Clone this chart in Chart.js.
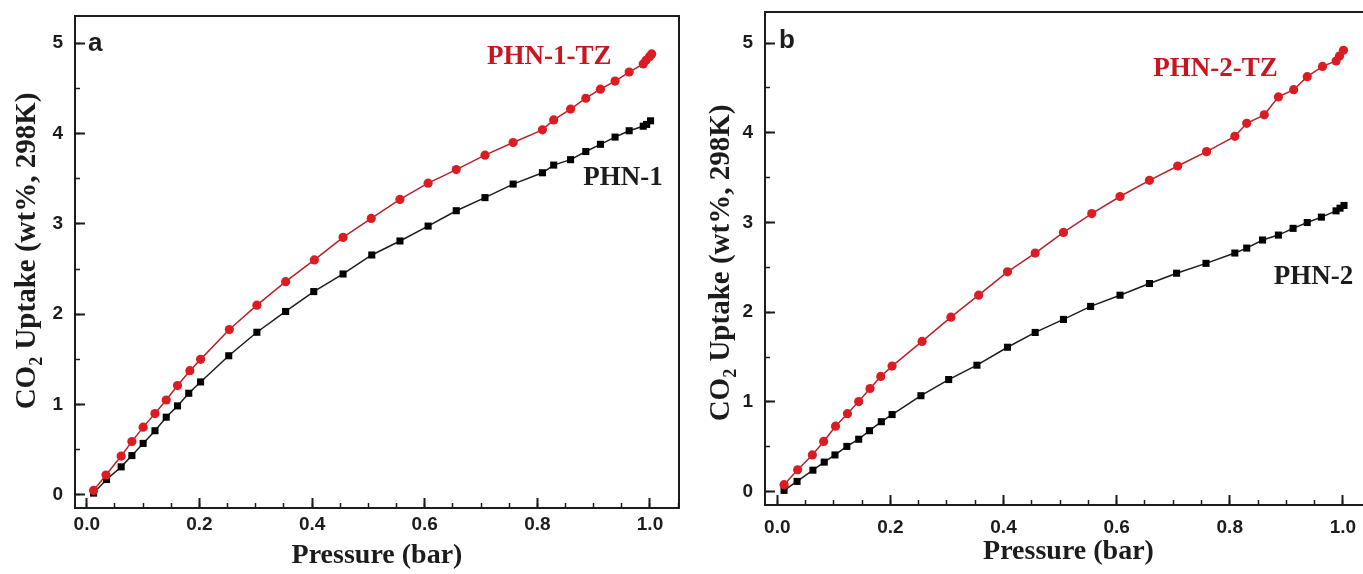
<!DOCTYPE html>
<html>
<head>
<meta charset="utf-8">
<script src="https://cdn.jsdelivr.net/npm/chart.js@4.4.1/dist/chart.umd.min.js"></script>
<style>
    html, body { margin: 0; padding: 0; background: #fff; overflow: hidden; }
    body { width: 1363px; height: 574px; position: relative; }
    .panel { position: absolute; top: 0; width: 690px; height: 574px; }
    #panelA { left: 0; }
    #panelB { left: 690px; }
</style>
</head>
<body>
<div class="panel" id="panelA"><canvas id="chartA"></canvas></div>
<div class="panel" id="panelB"><canvas id="chartB"></canvas></div>
<script>
// Panel a: PHN-1-TZ (red) and PHN-1 (black)
const phn1TzPressure = [0.012, 0.034, 0.061, 0.080, 0.100, 0.121, 0.141, 0.161, 0.183, 0.202, 0.253, 0.302, 0.353, 0.404, 0.455, 0.505, 0.556, 0.606, 0.656, 0.707, 0.757, 0.809, 0.829, 0.859, 0.886, 0.912, 0.938, 0.963, 0.988, 0.993, 0.999, 1.003];
const phn1TzUptake = [0.05, 0.22, 0.43, 0.59, 0.75, 0.90, 1.05, 1.21, 1.375, 1.50, 1.83, 2.10, 2.36, 2.60, 2.85, 3.06, 3.27, 3.45, 3.60, 3.76, 3.90, 4.04, 4.15, 4.27, 4.39, 4.49, 4.58, 4.68, 4.77, 4.81, 4.85, 4.88];
const phn1Pressure = [0.012, 0.035, 0.061, 0.080, 0.100, 0.121, 0.141, 0.161, 0.181, 0.202, 0.252, 0.302, 0.353, 0.403, 0.455, 0.506, 0.556, 0.606, 0.656, 0.707, 0.757, 0.809, 0.829, 0.859, 0.886, 0.912, 0.938, 0.963, 0.988, 0.994, 1.001];
const phn1Uptake = [0.02, 0.17, 0.31, 0.435, 0.57, 0.71, 0.86, 0.985, 1.125, 1.25, 1.54, 1.80, 2.03, 2.25, 2.445, 2.655, 2.81, 2.975, 3.145, 3.29, 3.44, 3.565, 3.65, 3.71, 3.80, 3.88, 3.96, 4.03, 4.08, 4.10, 4.14];

// Panel b: PHN-2-TZ (red) and PHN-2 (black)
const phn2TzPressure = [0.012, 0.036, 0.062, 0.082, 0.103, 0.124, 0.144, 0.164, 0.183, 0.203, 0.256, 0.307, 0.356, 0.407, 0.456, 0.506, 0.556, 0.606, 0.658, 0.708, 0.759, 0.809, 0.830, 0.861, 0.886, 0.913, 0.937, 0.964, 0.988, 0.994, 1.001];
const phn2TzUptake = [0.078, 0.245, 0.41, 0.56, 0.73, 0.87, 1.005, 1.15, 1.285, 1.40, 1.675, 1.945, 2.19, 2.45, 2.66, 2.89, 3.10, 3.29, 3.47, 3.63, 3.79, 3.96, 4.105, 4.20, 4.40, 4.48, 4.625, 4.74, 4.80, 4.855, 4.92];
const phn2Pressure = [0.012, 0.035, 0.063, 0.083, 0.102, 0.123, 0.144, 0.163, 0.184, 0.203, 0.254, 0.303, 0.353, 0.407, 0.456, 0.506, 0.554, 0.606, 0.658, 0.706, 0.758, 0.809, 0.830, 0.858, 0.886, 0.912, 0.937, 0.962, 0.988, 0.995, 1.002];
const phn2Uptake = [0.015, 0.115, 0.24, 0.33, 0.41, 0.505, 0.585, 0.68, 0.78, 0.86, 1.07, 1.25, 1.41, 1.61, 1.775, 1.92, 2.065, 2.19, 2.32, 2.435, 2.545, 2.66, 2.715, 2.805, 2.86, 2.935, 3.00, 3.06, 3.13, 3.16, 3.19];

const xTitle = 'Pressure (bar)';
const yTitleParts = ['CO', '2', ' Uptake (wt%, 298K)'];

const RED_MARK = '#dc1c23';
const RED_LINE = '#b52329';
const INK = '#1c1c1c';
const SANS = '"Liberation Sans", Arial, sans-serif';
const SERIF = '"Liberation Serif", "Times New Roman", serif';

function toPoints(xs, ys) {
    return xs.map((x, i) => ({ x: x, y: ys[i] }));
}

// box round the plot area
const framePlugin = {
    id: 'frame',
    afterDraw(chart) {
        const { ctx, chartArea } = chart;
        ctx.save();
        ctx.strokeStyle = INK;
        ctx.lineWidth = 2;
        ctx.strokeRect(chartArea.left, chartArea.top, chartArea.right - chartArea.left, chartArea.bottom - chartArea.top);
        ctx.restore();
    }
};

// y title with a subscript 2
const yTitlePlugin = {
    id: 'yTitle',
    afterDraw(chart, args, opts) {
        const ctx = chart.ctx;
        const big = 'bold ' + opts.size + 'px ' + SERIF;
        const small = 'bold ' + Math.round(opts.size * 0.62) + 'px ' + SERIF;
        ctx.save();
        ctx.translate(opts.x, opts.y);
        ctx.rotate(-Math.PI / 2);
        ctx.fillStyle = INK;
        ctx.textBaseline = 'middle';
        ctx.textAlign = 'left';
        ctx.font = big;
        const w1 = ctx.measureText(yTitleParts[0]).width;
        const w3 = ctx.measureText(yTitleParts[2]).width;
        ctx.font = small;
        const w2 = ctx.measureText(yTitleParts[1]).width;
        let x = -(w1 + w2 + w3) / 2;
        ctx.font = big;
        ctx.fillText(yTitleParts[0], x, 0);
        x += w1;
        ctx.font = small;
        ctx.fillText(yTitleParts[1], x, opts.size * 0.32);
        x += w2;
        ctx.font = big;
        ctx.fillText(yTitleParts[2], x, 0);
        ctx.restore();
    }
};

// series names and the panel letter, placed in data units
const notesPlugin = {
    id: 'notes',
    afterDraw(chart, args, opts) {
        const ctx = chart.ctx;
        const xs = chart.scales.x;
        const ys = chart.scales.y;
        ctx.save();
        ctx.textAlign = 'center';
        ctx.textBaseline = 'middle';
        opts.items.forEach((it) => {
            ctx.font = it.font;
            ctx.fillStyle = it.color;
            ctx.fillText(it.text, xs.getPixelForValue(it.x), ys.getPixelForValue(it.y));
        });
        ctx.restore();
    }
};

// fixed axis size, and no extra room for labels hanging past the ends
function fixAxisSize(scale, size) {
    if (scale.isHorizontal()) {
        scale.height = size;
    } else {
        scale.width = size;
    }
    scale.paddingTop = 0;
    scale.paddingBottom = 0;
    scale.paddingLeft = 0;
    scale.paddingRight = 0;
}

function makeMajorAxis(pos, range, step, axisSize, pad, fmt, title) {
    return {
        type: 'linear',
        position: pos,
        weight: 1,
        min: range[0],
        max: range[1],
        afterFit: (scale) => fixAxisSize(scale, axisSize),
        border: { display: true, color: INK, width: 2 },
        grid: {
            drawOnChartArea: false,
            drawTicks: true,
            tickLength: -10,
            tickWidth: 2,
            tickColor: INK,
        },
        ticks: {
            stepSize: step,
            includeBounds: false,
            autoSkip: false,
            maxRotation: 0,
            padding: pad,
            color: INK,
            font: { family: SANS, weight: 'bold', size: 19 },
            callback: fmt,
        },
        title: title,
    };
}

function makeMinorAxis(pos, range, step) {
    return {
        type: 'linear',
        position: pos,
        weight: 0,
        min: range[0],
        max: range[1],
        afterFit: (scale) => fixAxisSize(scale, 0),
        border: { display: false },
        grid: {
            drawOnChartArea: false,
            drawTicks: true,
            tickLength: -5,
            tickWidth: 1.5,
            tickColor: INK,
        },
        ticks: {
            stepSize: step,
            includeBounds: false,
            autoSkip: false,
            maxRotation: 0,
            padding: 0,
            font: { size: 1 },
            callback: () => '',
        },
    };
}

function makeChart(canvasId, p) {
    const datasets = [
        {
            label: p.redName,
            data: toPoints(p.redX, p.redY),
            showLine: true,
            borderColor: RED_LINE,
            borderWidth: 1.5,
            backgroundColor: RED_MARK,
            pointStyle: 'circle',
            pointRadius: 4.6,
            pointBorderWidth: 0,
        },
        {
            label: p.blackName,
            data: toPoints(p.blackX, p.blackY),
            showLine: true,
            borderColor: INK,
            borderWidth: 1.5,
            backgroundColor: '#000',
            pointStyle: 'rect',
            pointRadius: 5,
            pointBorderWidth: 0,
        },
    ];

    const chartSpec = {
        type: 'scatter',
        data: { datasets: datasets },
        options: {
            responsive: true,
            maintainAspectRatio: false,
            animation: false,
            layout: { padding: { top: p.padTop, right: p.padRight, left: 0, bottom: 0 } },
            plugins: {
                legend: { display: false },
                tooltip: { enabled: false },
                yTitle: { x: p.yTitleX, y: p.yTitleY, size: 29 },
                notes: { items: p.notes },
            },
            scales: {
                x: makeMajorAxis('bottom', p.xRange, 0.2, p.xAxisSize, p.xTickPad, (v) => v.toFixed(1), {
                    display: true,
                    text: xTitle,
                    color: INK,
                    font: { family: SERIF, weight: 'bold', size: 28, lineHeight: 1 },
                    padding: { top: 0, bottom: p.xTitlePad },
                }),
                xMinor: makeMinorAxis('bottom', p.xRange, 0.05),
                y: makeMajorAxis('left', p.yRange, 1, 75, 22, (v) => String(Math.round(v)), { display: false }),
                yMinor: makeMinorAxis('left', p.yRange, 0.5),
            },
        },
        plugins: [framePlugin, yTitlePlugin, notesPlugin],
    };

    return new Chart(document.getElementById(canvasId), chartSpec);
}

makeChart('chartA', {
    redName: 'PHN-1-TZ', redX: phn1TzPressure, redY: phn1TzUptake,
    blackName: 'PHN-1', blackX: phn1Pressure, blackY: phn1Uptake,
    xRange: [-0.021, 1.0515],
    yRange: [-0.145, 5.30],
    padTop: 16, padRight: 11,
    xAxisSize: 66, xTickPad: 15, xTitlePad: 4,
    yTitleX: 28, yTitleY: 251,
    notes: [
        { text: 'PHN-1-TZ', x: 0.821, y: 4.85, color: '#c8161e', font: 'bold 27px ' + SERIF },
        { text: 'PHN-1', x: 0.952, y: 3.51, color: INK, font: 'bold 27px ' + SERIF },
        { text: 'a', x: 0.015, y: 4.99, color: INK, font: 'bold 26px ' + SANS },
    ],
});

makeChart('chartB', {
    redName: 'PHN-2-TZ', redX: phn2TzPressure, redY: phn2TzUptake,
    blackName: 'PHN-2', blackX: phn2Pressure, blackY: phn2Uptake,
    xRange: [-0.0217, 1.0515],
    yRange: [-0.148, 5.346],
    padTop: 12, padRight: 8,
    xAxisSize: 69, xTickPad: 21, xTitlePad: 8,
    yTitleX: 32, yTitleY: 263,
    notes: [
        { text: 'PHN-2-TZ', x: 0.775, y: 4.716, color: '#c8161e', font: 'bold 27px ' + SERIF },
        { text: 'PHN-2', x: 0.948, y: 2.397, color: INK, font: 'bold 27px ' + SERIF },
        { text: 'b', x: 0.017, y: 5.03, color: INK, font: 'bold 26px ' + SANS },
    ],
});
</script>
</body>
</html>
